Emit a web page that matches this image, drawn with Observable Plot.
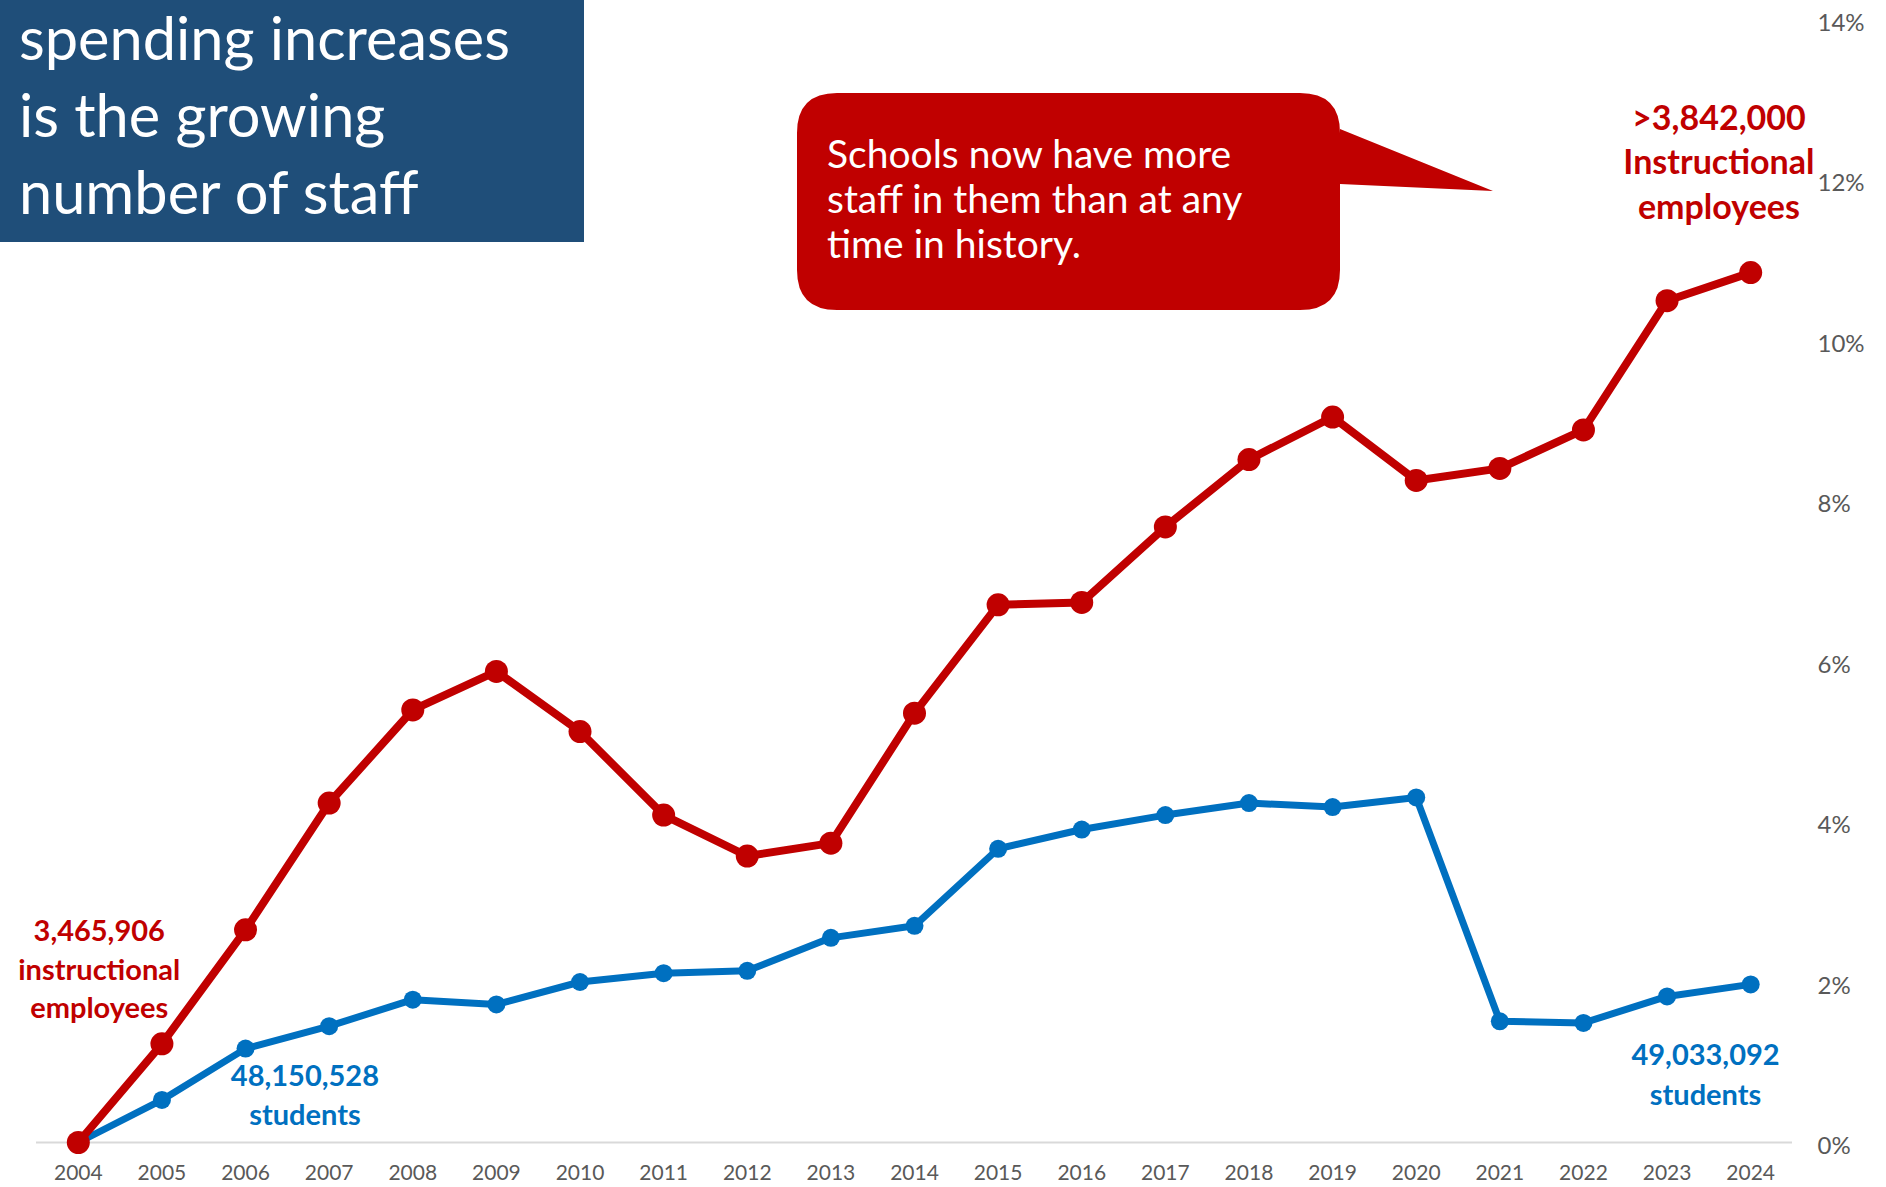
<!DOCTYPE html>
<html>
<head>
<meta charset="utf-8">
<script src="https://cdn.jsdelivr.net/npm/d3@7"></script>
<script src="https://cdn.jsdelivr.net/npm/@observablehq/plot@0.6"></script>
<style>
  html, body { margin: 0; padding: 0; background: #ffffff; overflow: hidden; }
  #chart svg { display: block; }
</style>
</head>
<body>
<div id="chart"></div>
<script>
// ---- data (percent change since 2004) ----
const years = [2004, 2005, 2006, 2007, 2008, 2009, 2010, 2011, 2012, 2013, 2014,
               2015, 2016, 2017, 2018, 2019, 2020, 2021, 2022, 2023, 2024];
const instructionalPct = [0, 1.23, 2.65, 4.23, 5.39, 5.87, 5.12, 4.08, 3.57, 3.73, 5.35,
                          6.70, 6.73, 7.67, 8.51, 9.04, 8.25, 8.40, 8.88, 10.49, 10.84];
const studentsPct = [0, 0.53, 1.17, 1.45, 1.78, 1.72, 2.00, 2.11, 2.14, 2.55, 2.70,
                     3.66, 3.90, 4.08, 4.23, 4.18, 4.30, 1.51, 1.49, 1.82, 1.97];
const yTicks = [0, 2, 4, 6, 8, 10, 12, 14];
const titleLines = ["spending increases", "is the growing", "number of staff"];
const calloutLines = ["Schools now have more", "staff in them than at any", "time in history."];

// annotation labels (placed in data space)
const redLabels = [
  {x: 2023.62, y: 12.24, text: ">3,842,000\nInstructional\nemployees", size: 34, lh: 1.3},
  {x: 2004.25, y: 2.18, text: "3,465,906\ninstructional\nemployees", size: 29, lh: 1.33}
];
const blueLabels = [
  {x: 2006.71, y: 0.62, text: "48,150,528\nstudents", size: 29, lh: 1.36},
  {x: 2023.46, y: 0.876, text: "49,033,092\nstudents", size: 29, lh: 1.36}
];

const RED = "#C00000", BLUE = "#0070C0", NAVY = "#1F4E79", GRAY = "#595959";

const red = years.map((yr, i) => ({year: yr, value: instructionalPct[i]}));
const blue = years.map((yr, i) => ({year: yr, value: studentsPct[i]}));

const chart = Plot.plot({
  width: 1886,
  height: 1187,
  marginLeft: 36,
  marginRight: 94,
  marginTop: 18.5,
  marginBottom: 45,
  style: {fontFamily: "Lato, 'Open Sans', sans-serif", background: "#ffffff", overflow: "visible"},
  x: {domain: [2003.5, 2024.5]},
  y: {domain: [0, 14]},
  marks: [
    Plot.ruleY([0], {stroke: "#D9D9D9", strokeWidth: 2}),
    Plot.axisX({ticks: years, tickFormat: d => String(d), tickSize: 0, tickPadding: 23,
                fontSize: 21, color: GRAY, label: null}),
    Plot.axisY({anchor: "right", ticks: yTicks, tickFormat: d => d + "%", tickSize: 0,
                tickPadding: 25, fontSize: 24, dy: 4, color: GRAY, label: null}),
    Plot.line(blue, {x: "year", y: "value", stroke: BLUE, strokeWidth: 7}),
    Plot.dot(blue, {x: "year", y: "value", r: 9, fill: BLUE, stroke: "none"}),
    Plot.line(red, {x: "year", y: "value", stroke: RED, strokeWidth: 8}),
    Plot.dot(red, {x: "year", y: "value", r: 11.5, fill: RED, stroke: "none"}),
    ...redLabels.map(l => Plot.text([l], {x: "x", y: "y", text: "text", fill: RED,
        fontWeight: "bold", fontSize: l.size, lineHeight: l.lh, textAnchor: "middle"})),
    ...blueLabels.map(l => Plot.text([l], {x: "x", y: "y", text: "text", fill: BLUE,
        fontWeight: "bold", fontSize: l.size, lineHeight: l.lh, textAnchor: "middle"}))
  ]
});

document.getElementById("chart").appendChild(chart);

// ---- overlay: title box and speech-bubble callout ----
const svg = d3.select(chart);
const ov = svg.append("g")
  .attr("font-family", "Lato, 'Open Sans', sans-serif")
  .attr("text-anchor", "start");

ov.append("rect").attr("x", 0).attr("y", 0).attr("width", 584).attr("height", 242).attr("fill", NAVY);
const titleBase = [60, 137, 214];
titleLines.forEach((t, i) => {
  ov.append("text").attr("x", 19).attr("y", titleBase[i]).attr("fill", "#ffffff")
    .attr("text-anchor", "start").attr("font-size", 59.5).text(t);
});

// callout bubble
const bx = 797, by = 93, bw = 543, bh = 217, r = 40;
ov.append("path")
  .attr("fill", RED)
  .attr("d", `M${bx + r},${by} H${bx + bw - r} Q${bx + bw},${by} ${bx + bw},${by + r}
              V129 L1493,191 L${bx + bw},184
              V${by + bh - r} Q${bx + bw},${by + bh} ${bx + bw - r},${by + bh}
              H${bx + r} Q${bx},${by + bh} ${bx},${by + bh - r}
              V${by + r} Q${bx},${by} ${bx + r},${by} Z`);
const calloutBase = [168, 213, 258];
calloutLines.forEach((t, i) => {
  ov.append("text").attr("x", 827).attr("y", calloutBase[i]).attr("fill", "#ffffff")
    .attr("text-anchor", "start").attr("font-size", 39).text(t);
});
</script>
</body>
</html>
